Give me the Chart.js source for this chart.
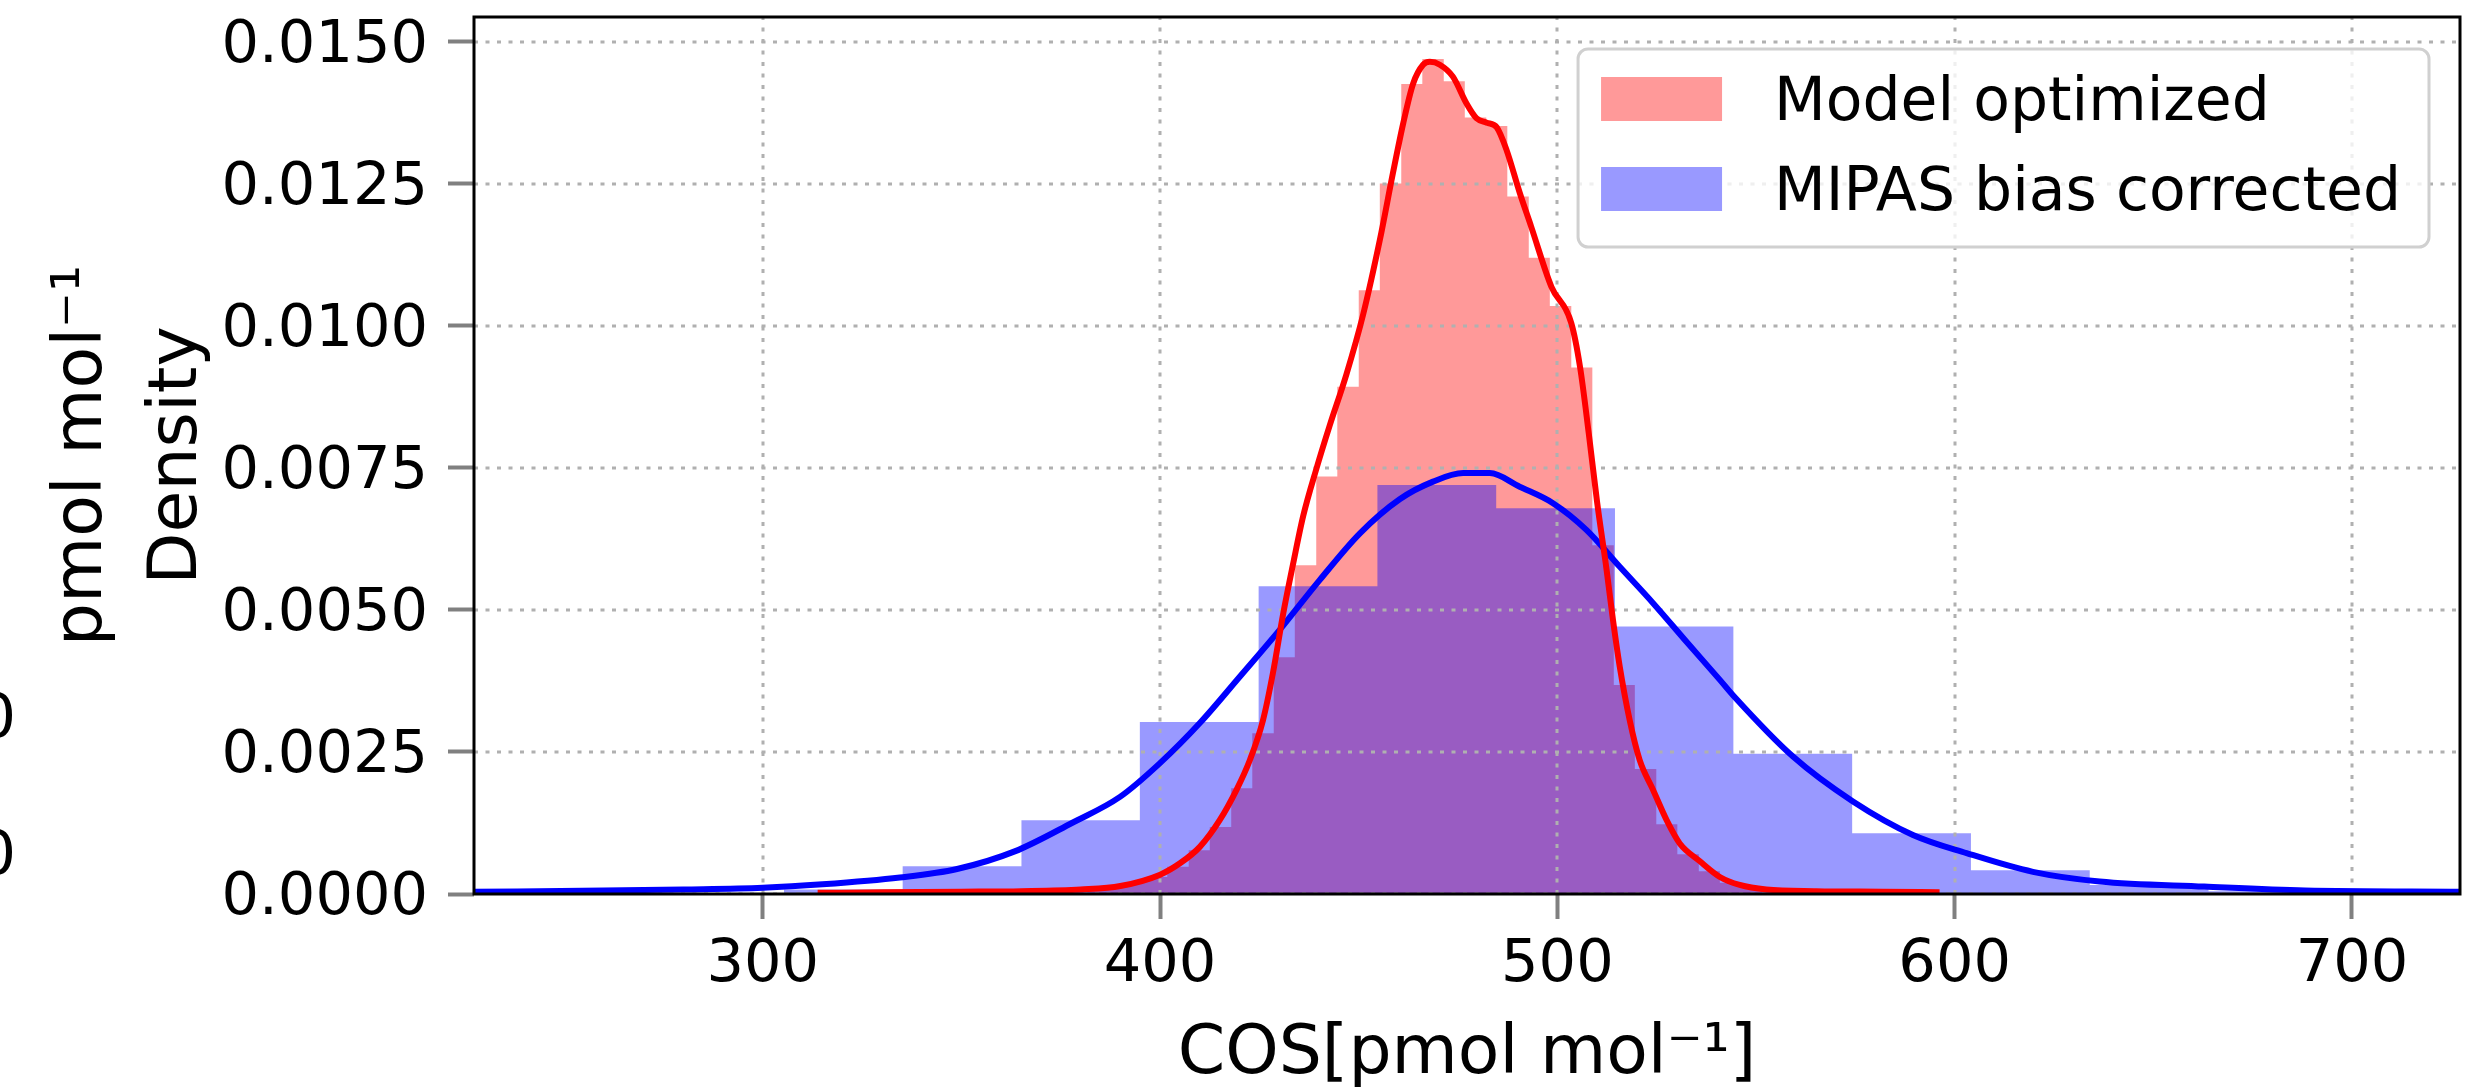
<!DOCTYPE html>
<html>
<head>
<meta charset="utf-8">
<script src="https://cdn.jsdelivr.net/npm/chart.js@4.4.1/dist/chart.umd.min.js"></script>
<style>
  html, body { margin: 0; padding: 0; background: #ffffff; }
  canvas { display: block; }
</style>
</head>
<body>
<canvas id="densityChart" width="2491" height="1089"></canvas>
<script>
const xTicks = [300, 400, 500, 600, 700];
const yTicks = [0, 0.0025, 0.005, 0.0075, 0.01, 0.0125, 0.015];

// Model optimized histogram (bin edges + density per bin)
const modelBinEdges = [
  310.8, 316.2, 321.5, 326.9, 332.2, 337.6, 342.9, 348.3, 353.6, 359.0,
  364.3, 369.7, 375.0, 380.4, 385.7, 391.1, 396.4, 401.8, 407.2, 412.5,
  417.9, 423.2, 428.6, 433.9, 439.3, 444.6, 450.0, 455.3, 460.7, 466.0,
  471.4, 476.7, 482.1, 487.4, 492.8, 498.1, 503.5, 508.8, 514.2, 519.5,
  524.9, 530.2, 535.6, 540.9, 546.3, 551.7, 557.0, 562.4, 567.7, 573.1,
  578.4, 583.8, 589.1, 594.5, 599.8,
];
const modelDensity = [
  0.00001, 0.00001, 0.00002, 0.00002, 0.00002, 0.00003, 0.00003, 0.00004, 0.00004, 0.00005,
  0.00005, 0.00007, 0.00008, 0.0001, 0.00015, 0.0002, 0.0003, 0.00048, 0.00077, 0.00118,
  0.00186, 0.00283, 0.00417, 0.00579, 0.00735, 0.00893, 0.01063, 0.01251, 0.01426, 0.0147,
  0.01431, 0.01367, 0.01352, 0.01228, 0.0112, 0.01035, 0.00927, 0.00614, 0.00368, 0.0022,
  0.00123, 0.0007, 0.0004, 0.0002, 0.00012, 0.00007, 0.00005, 0.00003, 0.00002, 0.00002,
  0.00001, 0.00001, 0.00001, 0.00001,
];

// MIPAS bias corrected histogram
const mipasBinEdges = [
  305.3, 335.2, 365.1, 394.9, 424.8, 454.7, 484.6, 514.5, 544.3, 574.2, 604.1, 634.0, 663.9, 693.7,
];
const mipasDensity = [
  0.00008, 0.00049, 0.0013, 0.00303, 0.00542, 0.0072, 0.00679, 0.00471, 0.00247, 0.00107,
  0.00042, 0.00016, 0.00005,
];

// kde curves
const modelKdeX = [
  313.8, 330, 350, 365, 380, 390, 400, 405, 410, 415, 419.2, 422.6, 425.9, 428.4, 431, 433.5,
  436, 439.4, 442.7, 446.9, 451.1, 455.3, 458.6, 461.2, 463.7, 466.2, 467.9, 470.4, 473.7,
  477.1, 479.6, 482.2, 484.7, 487.2, 490.5, 493.4, 498.5, 503.5, 505.7, 507.9, 510.0, 512.4,
  514.0, 515.7, 518.2, 520.7, 524.1, 527.5, 530.8, 535.8, 540.9, 545.9, 552.6, 565.2, 581.9,
  596.2,
];
const modelKdeY = [
  0.00002, 0.00003, 0.00004, 0.00005, 0.00008, 0.00014, 0.00034, 0.00054, 0.00083, 0.0013,
  0.00183, 0.00236, 0.00306, 0.00389, 0.00494, 0.00582, 0.00665, 0.0075, 0.00825, 0.00915,
  0.0102, 0.01151, 0.01269, 0.01357, 0.01427, 0.0146, 0.01465, 0.0146, 0.01439, 0.01392,
  0.01366, 0.01358, 0.0135, 0.0131, 0.01235, 0.01175, 0.01069, 0.01005, 0.00928, 0.00811,
  0.0069, 0.0057, 0.00482, 0.004, 0.00306, 0.00236, 0.00183, 0.0013, 0.00089, 0.00058,
  0.0003, 0.00016, 0.00008, 0.00005, 0.00004, 0.00003,
];
const mipasKdeX = [
  227.3, 260, 280, 300, 315, 334.5, 348.9, 363.4, 377.8, 389.9, 399.9, 410, 420.1, 430.1,
  440.2, 450.3, 460.3, 468.7, 476.3, 483.0, 490.5, 498.9, 507.3, 515.7, 524.1, 532.5, 540.9,
  544.2, 559.3, 574.4, 589.5, 603.0, 619.7, 636.5, 662.8, 688.2, 727.2,
];
const mipasKdeY = [
  0.00004, 0.00006, 0.00008, 0.00011, 0.00017, 0.00029, 0.00044, 0.00075, 0.00125, 0.00171,
  0.0023, 0.00301, 0.00383, 0.00465, 0.00553, 0.00635, 0.00695, 0.00726, 0.00741, 0.00741,
  0.00717, 0.00688, 0.00641, 0.00576, 0.00512, 0.00444, 0.00377, 0.0035, 0.00242, 0.00163,
  0.00104, 0.00072, 0.00039, 0.00022, 0.00013, 0.00006, 0.00004,
];

const FONT = "'DejaVu Sans', 'Liberation Sans', sans-serif";

function histPoints(edges, density) {
  const pts = density.map((d, i) => ({ x: edges[i], y: d }));
  pts.push({ x: edges[edges.length - 1], y: density[density.length - 1] });
  return pts;
}

function curvePoints(xs, ys) {
  return xs.map((x, i) => ({ x: x, y: ys[i] }));
}

// matplotlib puts the dotted grid above the bars but below the kde lines
const gridAboveBars = {
  id: "gridAboveBars",
  afterDatasetDraw(chart, args) {
    const ds = chart.data.datasets[args.index];
    if (!ds.gridAfter) return;
    const { ctx, chartArea, scales } = chart;
    ctx.save();
    ctx.beginPath();
    ctx.rect(chartArea.left, chartArea.top, chartArea.right - chartArea.left, chartArea.bottom - chartArea.top);
    ctx.clip();
    ctx.strokeStyle = "#b0b0b0";
    ctx.lineWidth = 3;
    ctx.setLineDash([4, 7.5]);
    scales.x.ticks.forEach((t) => {
      const px = Math.round(scales.x.getPixelForValue(t.value));
      ctx.beginPath();
      ctx.moveTo(px, chartArea.bottom);
      ctx.lineTo(px, chartArea.top);
      ctx.stroke();
    });
    scales.y.ticks.forEach((t) => {
      const py = Math.round(scales.y.getPixelForValue(t.value));
      ctx.beginPath();
      ctx.moveTo(chartArea.left, py);
      ctx.lineTo(chartArea.right, py);
      ctx.stroke();
    });
    ctx.restore();
  },
};

const frameAndLegend = {
  id: "frameAndLegend",
  afterDraw(chart) {
    const { ctx, chartArea } = chart;
    ctx.save();

    // axes frame
    ctx.strokeStyle = "#000000";
    ctx.lineWidth = 3;
    ctx.strokeRect(chartArea.left, chartArea.top, chartArea.right - chartArea.left, chartArea.bottom - chartArea.top);

    // legend box, upper right
    const items = chart.data.datasets.filter((d) => d.inLegend);
    ctx.font = "60px " + FONT;
    const textW = Math.max(...items.map((d) => ctx.measureText(d.label).width));
    const padL = 23, patchW = 121, patchH = 44, gap = 52, padR = 28, rowH = 90;
    const w = padL + patchW + gap + textW + padR;
    const h = 198;
    const x = chartArea.right - 31 - w;
    const y = chartArea.top + 32;
    ctx.beginPath();
    ctx.roundRect(x, y, w, h, 10);
    ctx.fillStyle = "rgba(255,255,255,0.8)";
    ctx.fill();
    ctx.strokeStyle = "#d0d0d0";
    ctx.lineWidth = 3;
    ctx.stroke();

    items.forEach((d, i) => {
      ctx.fillStyle = "#ffffff";
      ctx.fillRect(x + padL, y + 28 + i * rowH, patchW, patchH);
      ctx.fillStyle = d.backgroundColor;
      ctx.fillRect(x + padL, y + 28 + i * rowH, patchW, patchH);
      ctx.fillStyle = "#000000";
      ctx.textAlign = "left";
      ctx.textBaseline = "alphabetic";
      ctx.fillText(d.label, x + padL + patchW + gap, y + 71 + i * rowH);
    });

    // clipped tick labels of the neighbouring panel at the left edge
    ctx.font = "61px " + FONT;
    ctx.textAlign = "right";
    ctx.textBaseline = "middle";
    ctx.fillText("0", 16, 721);
    ctx.fillText("0", 16, 858);

    ctx.restore();
  },
};

function createDensityChart() {
  const ctx = document.getElementById("densityChart").getContext("2d");

  return new Chart(ctx, {
    type: "line",
    data: {
      datasets: [
        {
          label: "Model optimized",
          data: histPoints(modelBinEdges, modelDensity),
          stepped: "before",
          fill: "origin",
          backgroundColor: "rgba(255,0,0,0.4)",
          borderWidth: 0,
          pointRadius: 0,
          order: 3,
          inLegend: true,
        },
        {
          label: "MIPAS bias corrected",
          data: histPoints(mipasBinEdges, mipasDensity),
          stepped: "before",
          fill: "origin",
          backgroundColor: "rgba(0,0,255,0.4)",
          borderWidth: 0,
          pointRadius: 0,
          order: 2,
          inLegend: true,
          gridAfter: true,
        },
        {
          label: "MIPAS kde",
          data: curvePoints(mipasKdeX, mipasKdeY),
          borderColor: "#0000ff",
          borderWidth: 6,
          pointRadius: 0,
          fill: false,
          cubicInterpolationMode: "monotone",
          order: 1,
        },
        {
          label: "Model kde",
          data: curvePoints(modelKdeX, modelKdeY),
          borderColor: "#ff0000",
          borderWidth: 6,
          pointRadius: 0,
          fill: false,
          cubicInterpolationMode: "monotone",
          order: 0,
        },
      ],
    },
    options: {
      responsive: false,
      devicePixelRatio: 1,
      animation: false,
      layout: {
        padding: { top: 17, right: 31, bottom: 0, left: 0 },
      },
      scales: {
        x: {
          type: "linear",
          min: 227.3,
          max: 727.2,
          afterFit: (scale) => {
            scale.height = 195;
            scale.paddingLeft = 0;
            scale.paddingRight = 0;
          },
          afterBuildTicks: (scale) => {
            scale.ticks = xTicks.map((v) => ({ value: v }));
          },
          border: { display: false },
          grid: {
            drawOnChartArea: false,
            drawTicks: true,
            tickLength: 25,
            tickWidth: 4,
            tickColor: "#808080",
          },
          ticks: {
            padding: 11,
            color: "#000000",
            maxRotation: 0,
            font: { family: FONT, size: 59 },
            callback: (v) => String(v),
          },
          title: {
            display: true,
            text: "COS[pmol mol\u207B\u00B9]",
            color: "#000000",
            font: { family: FONT, size: 68, lineHeight: 1 },
            padding: { top: 0, bottom: 0 },
          },
        },
        y: {
          type: "linear",
          min: 0,
          max: 0.01544,
          afterFit: (scale) => {
            scale.width = 474;
            scale.paddingTop = 0;
            scale.paddingBottom = 0;
          },
          afterBuildTicks: (scale) => {
            scale.ticks = yTicks.map((v) => ({ value: v }));
          },
          border: { display: false },
          grid: {
            drawOnChartArea: false,
            drawTicks: true,
            tickLength: 26,
            tickWidth: 4,
            tickColor: "#808080",
          },
          ticks: {
            padding: 20,
            labelOffset: 5,
            color: "#000000",
            font: { family: FONT, size: 59, lineHeight: 1 },
            callback: (v) => Number(v).toFixed(4),
          },
          title: {
            display: true,
            text: ["pmol mol\u207B\u00B9", "Density"],
            color: "#000000",
            font: { family: FONT, size: 68, lineHeight: 1.4 },
            padding: { top: 36, bottom: 0 },
          },
        },
      },
      plugins: {
        legend: { display: false },
        tooltip: { enabled: false },
        title: { display: false },
      },
    },
    plugins: [gridAboveBars, frameAndLegend],
  });
}

document.addEventListener("DOMContentLoaded", () => {
  createDensityChart();
});
</script>
</body>
</html>
